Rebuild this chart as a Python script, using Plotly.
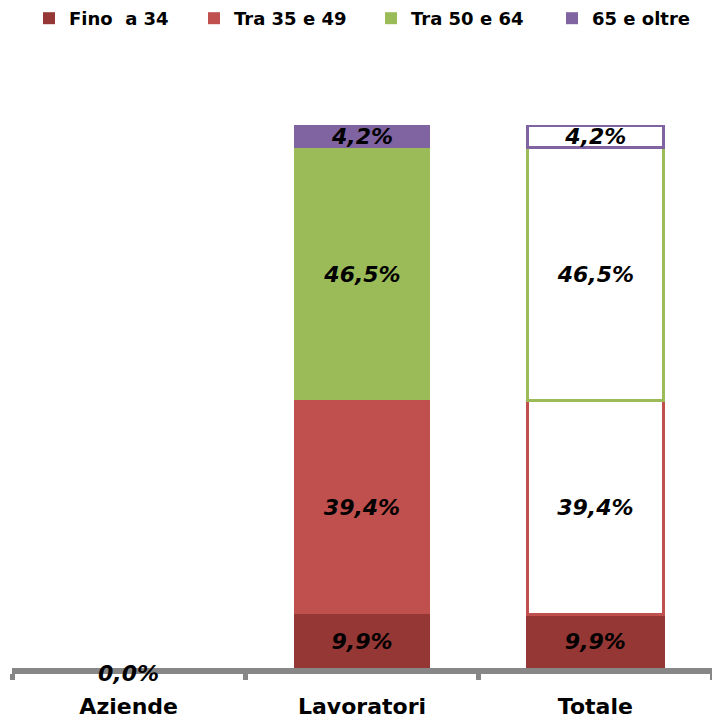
import plotly.graph_objects as go

# Age-group shares (%) of workers
categories = ["Aziende", "Lavoratori", "Totale"]
groups = ["Fino  a 34", "Tra 35 e 49", "Tra 50 e 64", "65 e oltre"]
lavoratori = [9.9, 39.4, 46.5, 4.2]
totale = [9.9, 39.4, 46.5, 4.2]
aziende_total = 0.0

colors = ["#953735", "#C0504D", "#9BBB59", "#8064A2"]
# Totale: first segment filled, the others drawn as outlined boxes
totale_fill = ["#953735", "#FFFFFF", "#FFFFFF", "#FFFFFF"]

# one legend per entry so each can sit at its own horizontal offset (px)
legend_ids = ["legend", "legend2", "legend3", "legend4"]
legend_left_px = [29, 194, 371, 552]

W, H = 712, 722
label_font = dict(family="DejaVu Sans", size=22, color="black")
legend_font = dict(family="DejaVu Sans", size=18, color="black", weight="bold")

fig = go.Figure()

for name, val, col, lid in zip(groups, lavoratori, colors, legend_ids):
    fig.add_trace(go.Bar(
        name=name, x=["Lavoratori"], y=[val],
        marker=dict(color=col, line=dict(width=0)),
        width=0.58,
        texttemplate="<b><i>%{y:.1f}%</i></b>",
        textposition="inside", insidetextanchor="middle",
        insidetextfont=label_font, constraintext="none", textangle=0,
        hoverinfo="skip", legendgroup=name, legend=lid,
    ))

for name, val, col, fill in zip(groups, totale, colors, totale_fill):
    fig.add_trace(go.Bar(
        name=name, x=["Totale"], y=[val],
        marker=dict(color=fill, line=dict(color=col, width=3)),
        width=0.58,
        texttemplate="<b><i>%{y:.1f}%</i></b>",
        textposition="inside", insidetextanchor="middle",
        insidetextfont=label_font, constraintext="none", textangle=0,
        hoverinfo="skip", legendgroup=name, showlegend=False,
    ))

fig.add_annotation(
    x="Aziende", y=aziende_total,
    text="<b><i>" + f"{aziende_total:.1f}".replace(".", ",") + "%</i></b>",
    showarrow=False, font=label_font, yshift=-5,
)

legend_layouts = {}
for lid, left in zip(legend_ids, legend_left_px):
    legend_layouts[lid] = dict(
        orientation="h", xref="container", x=left / W, xanchor="left",
        yref="container", y=1.0, yanchor="top",
        font=legend_font, bgcolor="rgba(0,0,0,0)", itemclick=False,
    )

fig.update_layout(
    barmode="stack",
    width=W, height=H,
    margin=dict(l=12, r=0, t=125, b=54),
    plot_bgcolor="white", paper_bgcolor="white",
    separators=",.",
    showlegend=True,
    xaxis=dict(
        categoryorder="array", categoryarray=categories,
        range=[-0.5, 2.5],
        showline=True, linecolor="#878787", linewidth=6,
        ticks="outside", tickson="boundaries", ticklen=6, tickwidth=5,
        tickcolor="#878787",
        tickfont=dict(family="DejaVu Sans", size=22, color="black", weight="bold"),
        ticklabelstandoff=14,
        showgrid=False, zeroline=False,
    ),
    yaxis=dict(range=[0, 100], visible=False, showgrid=False, zeroline=False),
    **legend_layouts,
)

fig.write_html("out.html")
